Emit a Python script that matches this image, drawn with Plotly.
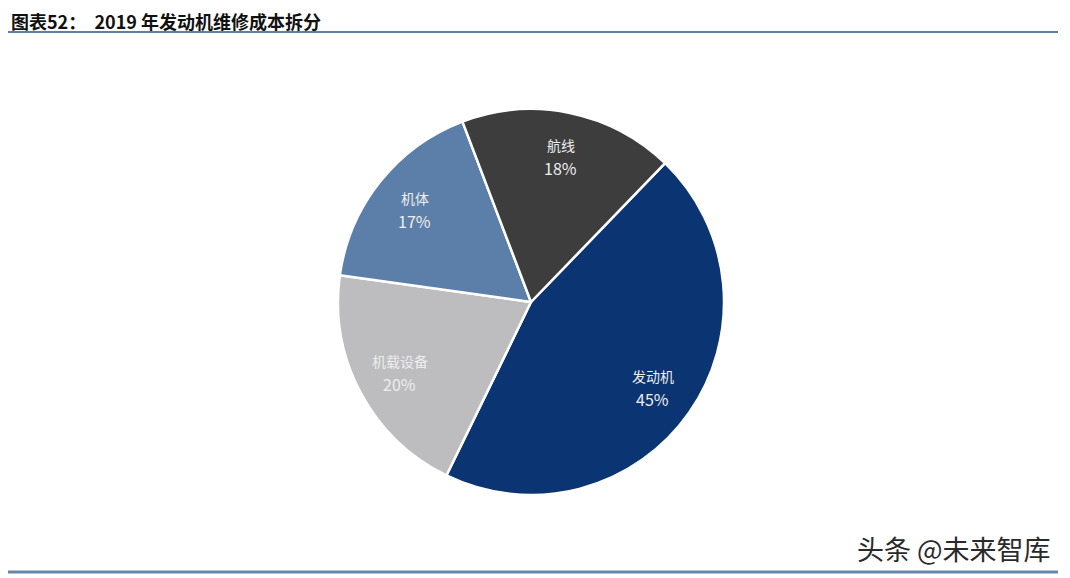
import math
import plotly.graph_objects as go

labels = ["发动机", "机载设备", "机体", "航线"]
values = [45, 20, 17, 18]
colors = ["#0B3473", "#BDBDBF", "#5C7FA9", "#3D3D3D"]

title_text = "图表52：  2019 年发动机维修成本拆分"
watermark = "头条 @未来智库"

OFF = 8  # page body margin
W, H = 1062, 570
cx, cy, r = 531 - OFF, 302 - OFF, 193
rotation = 44


def px(x):
    return (x - OFF) / W


def py(y):
    return 1 - (y - OFF) / H


fig = go.Figure(go.Pie(
    labels=labels,
    values=values,
    sort=False,
    direction="clockwise",
    rotation=rotation,
    marker=dict(colors=colors, line=dict(color="white", width=2.5)),
    textinfo="none",
    hoverinfo="label+percent",
    showlegend=False,
    domain=dict(x=[(cx - r) / W, (cx + r) / W], y=[(H - cy - r) / H, (H - cy + r) / H]),
))

annotations = []
total = sum(values)
start = rotation
for lab, val in zip(labels, values):
    span = 360 * val / total
    mid = math.radians(start + span / 2)
    start += span
    rr = 0.77 * r
    x = cx + rr * math.sin(mid)
    y = cy - rr * math.cos(mid)
    annotations.append(dict(
        text=lab, x=x / W, y=1 - (y - 11) / H, xref="paper", yref="paper",
        xanchor="center", yanchor="middle", showarrow=False, borderpad=0,
        font=dict(size=14, color="#EDEDED", family="Noto Sans CJK SC"),
    ))
    annotations.append(dict(
        text=f"{val}%", x=x / W, y=1 - (y + 12) / H, xref="paper", yref="paper",
        xanchor="center", yanchor="middle", showarrow=False, borderpad=0,
        font=dict(size=16, color="#EDEDED", family="Noto Sans CJK SC"),
    ))

annotations += [
    dict(text="<b>" + title_text + "</b>", x=px(10), y=py(21), xref="paper", yref="paper",
         xanchor="left", yanchor="middle", showarrow=False, borderpad=0,
         font=dict(size=18, color="#111111", family="Noto Sans CJK SC")),
    dict(text=watermark, x=px(1053), y=py(548), xref="paper", yref="paper",
         xanchor="right", yanchor="middle", showarrow=False,
         font=dict(size=27, color="#2A2A2A", family="Noto Sans CJK SC")),
]

fig.update_layout(
    width=W, height=H,
    margin=dict(l=0, r=0, t=0, b=0),
    paper_bgcolor="white",
    plot_bgcolor="white",
    annotations=annotations,
    shapes=[
        dict(type="line", xref="paper", yref="paper", x0=px(8), x1=px(1058),
             y0=py(32), y1=py(32), line=dict(color="#5F7FA5", width=2)),
        dict(type="line", xref="paper", yref="paper", x0=px(6), x1=px(1058),
             y0=py(572), y1=py(572), line=dict(color="#6A86AD", width=3)),
    ],
)

fig.write_html("out.html")
